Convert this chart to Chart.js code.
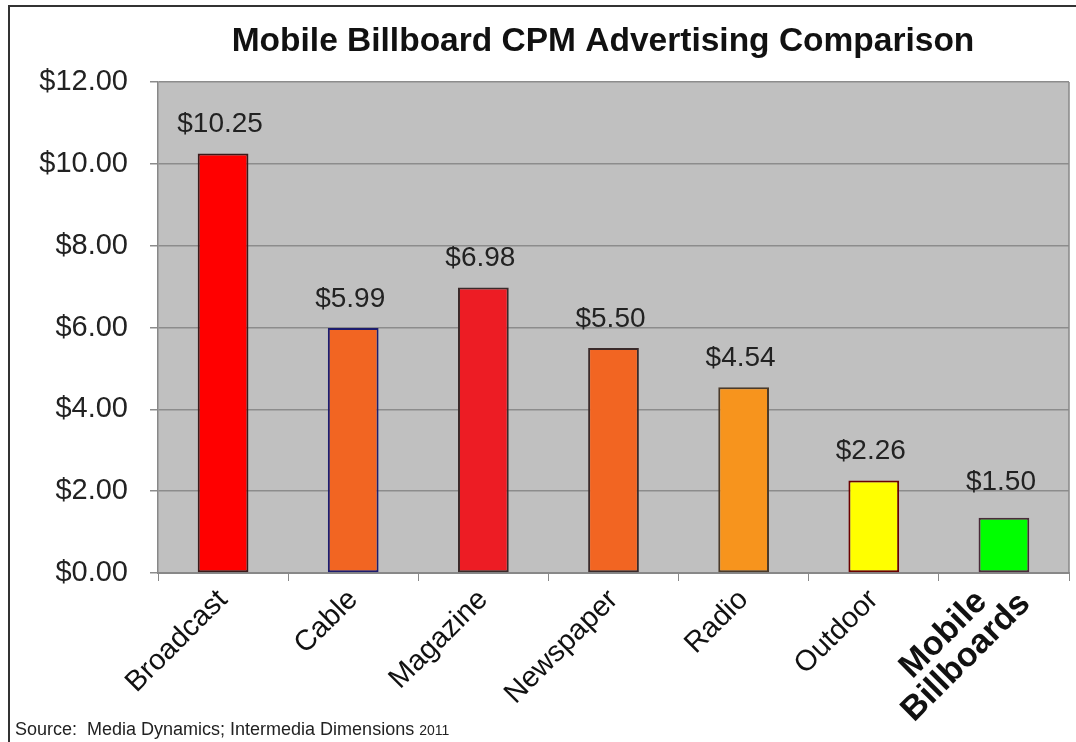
<!DOCTYPE html>
<html>
<head>
<meta charset="utf-8">
<script src="https://cdn.jsdelivr.net/npm/chart.js@4"></script>
<style>
  html, body { margin: 0; padding: 0; background: #fff; }
  #wrap { width: 1076px; height: 742px; }
</style>
</head>
<body>
<div id="wrap"><canvas id="cpmChart" width="1076" height="742"></canvas></div>
<script>
// Data
const categories = ['Broadcast', 'Cable', 'Magazine', 'Newspaper', 'Radio', 'Outdoor', ['Mobile', 'Billboards']];
const barHeights = [10.25, 5.99, 6.98, 5.50, 4.54, 2.26, 1.35];   // drawn bar height
const labelValues = [10.25, 5.99, 6.98, 5.50, 4.54, 2.26, 1.50];  // printed value
const yTicks = [0, 2, 4, 6, 8, 10, 12];
const HIGHLIGHT = 6; // index of the bold, centred two-line label

const barColors = ['#ff0000', '#f26522', '#ed1c24', '#f26522', '#f7941d', '#ffff00', '#00ff00'];
const barBorders = ['#3a1a1a', '#1c1c6e', '#3a2a2a', '#3a2a2a', '#4a3a2a', '#6a0000', '#4a2a3a'];

const FONT = 'Arial, "Liberation Sans", sans-serif';

// Background, frame, title, source text, value labels
const decor = {
    id: 'decor',
    beforeDraw(chart) {
        const c = chart.ctx;
        const a = chart.chartArea;
        c.save();
        c.fillStyle = '#fff';
        c.fillRect(0, 0, chart.width, chart.height);
        c.fillStyle = '#c0c0c0';
        c.fillRect(a.left, a.top, a.right - a.left, a.bottom - a.top);
        c.restore();
    },
    afterDraw(chart) {
        const c = chart.ctx;
        const a = chart.chartArea;
        c.save();
        // outer frame (left + top)
        c.strokeStyle = '#333';
        c.lineWidth = 2;
        c.beginPath();
        c.moveTo(9, chart.height);
        c.lineTo(9, 6);
        c.lineTo(chart.width, 6);
        c.stroke();
        // right edge of the plot
        c.strokeStyle = '#888';
        c.lineWidth = 1.5;
        c.beginPath();
        c.moveTo(a.right, a.top);
        c.lineTo(a.right, a.bottom);
        c.stroke();

        c.fillStyle = '#111';
        c.font = 'bold 33.5px ' + FONT;
        c.textAlign = 'center';
        c.textBaseline = 'middle';
        c.fillText('Mobile Billboard CPM Advertising Comparison', 603, 42);

        c.fillStyle = '#222';
        c.textAlign = 'left';
        c.textBaseline = 'alphabetic';
        c.font = '18px "Liberation Sans Narrow", "Arial Narrow", ' + FONT;
        const src = 'Source:  Media Dynamics; Intermedia Dimensions ';
        c.fillText(src, 15, 735);
        const w = c.measureText(src).width;
        c.font = '14px "Liberation Sans Narrow", "Arial Narrow", ' + FONT;
        c.fillText('2011', 15 + w, 735);

        // value labels above bars
        const y = chart.scales.y;
        const meta = chart.getDatasetMeta(0);
        c.fillStyle = '#222';
        c.font = '28px ' + FONT;
        c.textAlign = 'center';
        c.textBaseline = 'middle';
        meta.data.forEach((bar, i) => {
            const v = labelValues[i];
            c.fillText('$' + v.toFixed(2), bar.x - 3, y.getPixelForValue(v) - 29);
        });

        // bold two-line category label, centred lines, rotated 45°
        const x = chart.scales.x;
        const lines = categories[HIGHLIGHT];
        c.translate(x.getPixelForTick(HIGHLIGHT) - 49, a.bottom + 73);
        c.rotate(-Math.PI / 4);
        c.fillStyle = '#111';
        c.font = 'bold 34px ' + FONT;
        c.fillText(lines[0], 0, -16);
        c.fillText(lines[1], 0, 16);
        c.restore();
    }
};

const ctx = document.getElementById('cpmChart').getContext('2d');
const cpmChart = new Chart(ctx, {
    type: 'bar',
    data: {
        labels: categories,
        datasets: [{
            data: barHeights,
            backgroundColor: barColors,
            borderColor: barBorders,
            borderWidth: 2,
            borderSkipped: false,
            barPercentage: 0.39,
            categoryPercentage: 1
        }]
    },
    options: {
        responsive: false,
        animation: false,
        devicePixelRatio: 1,
        layout: { padding: { top: 82, right: 7, left: 0, bottom: 0 } },
        plugins: {
            legend: { display: false },
            tooltip: { enabled: false }
        },
        scales: {
            x: {
                afterFit: s => { s.height = 169; },
                grid: {
                    display: true,
                    drawOnChartArea: false,
                    color: '#888',
                    tickLength: 8,
                    offset: true
                },
                border: { color: '#888', width: 2 },
                ticks: {
                    minRotation: 45,
                    maxRotation: 45,
                    padding: 2,
                    color: c => c.index === HIGHLIGHT ? 'rgba(0,0,0,0)' : '#111',
                    font: { family: FONT, size: 29 }
                }
            },
            y: {
                min: 0,
                max: 12,
                afterFit: s => { s.width = 158; },
                afterBuildTicks: s => { s.ticks = yTicks.map(v => ({ value: v })); },
                grid: { color: '#8c8c8c', lineWidth: 1.5, tickLength: 8 },
                border: { color: '#888', width: 1.5 },
                ticks: {
                    padding: 22,
                    color: '#222',
                    font: { family: FONT, size: 29 },
                    callback: v => '$' + Number(v).toFixed(2)
                }
            }
        }
    },
    plugins: [decor]
});
</script>
</body>
</html>
